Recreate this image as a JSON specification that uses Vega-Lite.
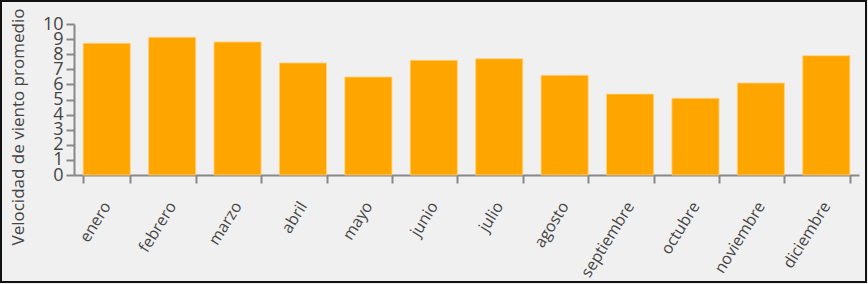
{
  "$schema": "https://vega.github.io/schema/vega-lite/v6.json",
  "width": 865,
  "height": 281,
  "autosize": {"type": "none"},
  "padding": {"left": 1, "top": 1, "right": 2, "bottom": 2},
  "background": "#f0f0f0",
  "config": {
    "view": {"stroke": "#111111", "strokeWidth": 2, "fill": "#f0f0f0"},
    "font": "Open Sans"
  },
  "data": {
    "values": [
      {"mes": "enero", "v": 8.72},
      {"mes": "febrero", "v": 9.12},
      {"mes": "marzo", "v": 8.81},
      {"mes": "abril", "v": 7.42},
      {"mes": "mayo", "v": 6.49},
      {"mes": "junio", "v": 7.6},
      {"mes": "julio", "v": 7.7},
      {"mes": "agosto", "v": 6.6},
      {"mes": "septiembre", "v": 5.36},
      {"mes": "octubre", "v": 5.08},
      {"mes": "noviembre", "v": 6.09},
      {"mes": "diciembre", "v": 7.9}
    ]
  },
  "mark": {"type": "bar", "color": "#ffa500", "stroke": "#ffd27a", "strokeWidth": 0.8},
  "encoding": {
    "x": {
      "field": "mes",
      "type": "nominal",
      "sort": null,
      "scale": {"range": [73, 858], "paddingInner": 0.28, "paddingOuter": 0.14},
      "axis": {
        "title": null,
        "offset": -107,
        "labelAngle": -58,
        "labelAlign": "right",
        "labelBaseline": "middle",
        "tickBand": "extent",
        "domainColor": "#888888",
        "tickColor": "#888888",
        "domainWidth": 2,
        "tickWidth": 2,
        "tickSize": 8,
        "labelFontSize": 16,
        "labelColor": "#444444",
        "labelPadding": 20
      }
    },
    "y": {
      "field": "v",
      "type": "quantitative",
      "scale": {"domain": [0, 10], "range": [174, 23], "nice": false},
      "axis": {
        "title": "Velocidad de viento promedio",
        "values": [0, 1, 2, 3, 4, 5, 6, 7, 8, 9, 10],
        "offset": -73,
        "grid": false,
        "domainColor": "#888888",
        "tickColor": "#888888",
        "domainWidth": 2,
        "tickWidth": 2,
        "tickSize": 8,
        "labelFontSize": 18,
        "labelColor": "#444444",
        "labelPadding": 3,
        "labelOverlap": false,
        "labelFlush": false,
        "titleFontSize": 17,
        "titleFontWeight": "normal",
        "titleColor": "#444444",
        "titleAlign": "left",
        "titleBaseline": "middle",
        "titleX": -56,
        "titleY": 244
      }
    }
  }
}
